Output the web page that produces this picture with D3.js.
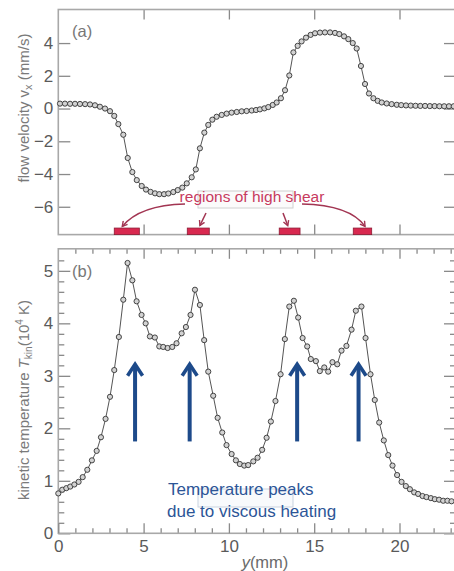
<!DOCTYPE html>
<html><head><meta charset="utf-8">
<script src="https://cdn.jsdelivr.net/npm/d3@7"></script>
<style>body{margin:0;background:#fff}svg{display:block}</style>
</head><body><svg id="c" width="454" height="571"></svg>
<script>
// ---- data ----
const velY = [0.1,0.39,0.69,0.98,1.27,1.57,1.86,2.15,2.44,2.74,3.03,3.28,3.52,3.81,4.07,4.34,4.6,4.89,5.14,5.41,5.67,5.92,6.2,6.45,6.74,7.0,7.27,7.53,7.82,8.06,8.3,8.56,8.79,9.03,9.28,9.58,9.87,10.16,10.46,10.75,11.04,11.34,11.59,11.82,12.08,12.31,12.57,12.8,13.05,13.29,13.54,13.78,14.03,14.26,14.52,14.79,15.05,15.34,15.63,15.93,16.22,16.47,16.75,17.0,17.26,17.49,17.74,17.98,18.21,18.47,18.72,18.96,19.25,19.54,19.84,20.1,20.38,20.66,20.94,21.22,21.5,21.78,22.06,22.34,22.62,22.9,23.18];
const velV = [0.30,0.30,0.29,0.29,0.28,0.27,0.25,0.20,0.11,0.0,-0.16,-0.45,-0.95,-1.6,-3.02,-3.88,-4.37,-4.73,-4.95,-5.09,-5.18,-5.23,-5.23,-5.19,-5.10,-4.98,-4.83,-4.57,-4.2,-3.72,-2.43,-1.47,-1.0,-0.68,-0.5,-0.39,-0.31,-0.25,-0.21,-0.17,-0.15,-0.12,-0.09,-0.05,0.01,0.09,0.22,0.37,0.63,1.12,2.02,3.43,3.83,4.10,4.33,4.50,4.60,4.64,4.65,4.65,4.62,4.55,4.41,4.24,4.0,3.67,2.6,1.5,0.92,0.63,0.47,0.37,0.31,0.27,0.23,0.21,0.19,0.18,0.17,0.16,0.16,0.15,0.15,0.14,0.14,0.14,0.14];
const tempY = [0,0.23,0.47,0.70,0.94,1.19,1.43,1.70,1.97,2.25,2.50,2.77,3.03,3.28,3.55,3.81,4.06,4.34,4.59,4.88,5.12,5.37,5.66,5.92,6.15,6.41,6.68,6.93,7.23,7.48,7.75,8.01,8.30,8.55,8.79,9.08,9.34,9.61,9.86,10.16,10.41,10.64,10.90,11.13,11.43,11.68,11.95,12.21,12.46,12.73,13.03,13.28,13.54,13.81,14.06,14.32,14.59,14.80,15.10,15.33,15.59,15.82,16.07,16.35,16.60,16.89,17.19,17.44,17.77,18.01,18.30,18.55,18.81,19.08,19.34,19.59,19.86,20.12,20.37,20.61,20.86,21.09,21.35,21.58,21.84,22.07,22.32,22.56,22.81,23.05];
const tempV = [0.76,0.83,0.86,0.89,0.93,0.98,1.07,1.21,1.39,1.57,1.83,2.18,2.60,3.11,3.74,4.45,5.15,4.82,4.42,4.16,4.00,3.75,3.73,3.56,3.55,3.53,3.55,3.62,3.81,3.93,4.16,4.64,4.35,3.68,3.08,2.62,2.20,1.92,1.68,1.51,1.39,1.32,1.29,1.30,1.37,1.44,1.59,1.82,2.13,2.52,3.03,3.70,4.32,4.43,4.11,3.72,3.56,3.32,3.28,3.09,3.16,3.08,3.26,3.22,3.48,3.57,3.88,4.24,4.32,3.72,3.03,2.54,2.11,1.77,1.49,1.29,1.11,0.98,0.90,0.84,0.78,0.75,0.71,0.69,0.67,0.65,0.64,0.62,0.62,0.61];
const shearStart = [3.28, 7.56, 12.95, 17.29];
const shearEnd   = [4.75, 8.85, 14.17, 18.37];
const peakPos = [4.5, 7.7, 14.0, 17.6];
const xTicks = [0,5,10,15,20];
const velTicks = [-6,-4,-2,0,2,4];
const tempTicks = [0,1,2,3,4,5];

// ---- layout ----
const FONT = "'Liberation Sans', Arial, sans-serif";
const L = 58.3, R = 456;
const svg = d3.select("#c").style("font-family", FONT);
const x = d3.scaleLinear().domain([0, (R-L)/17.06]).range([L, R]);
const yA = d3.scaleLinear().domain([-7.7, 6.05]).range([234.6, 9.5]);
const yB = d3.scaleLinear().domain([0, 5.42]).range([533.3, 248.8]);
const frameCol = "#a8a8a8", tickCol = "#8a8a8a", labCol = "#5a5a5a";

function styleAxis(g, showText){
  g.select(".domain").remove();
  g.selectAll(".tick line").attr("stroke", tickCol).attr("stroke-width", 1.3);
  g.selectAll(".tick text").attr("fill", labCol).attr("font-size", 17).attr("font-family", FONT);
  if(!showText) g.selectAll(".tick text").remove();
}
function panel(y, yTicks, minorX, minorY){
  const top = y.range()[1], bot = y.range()[0];
  styleAxis(svg.append("g").attr("transform",`translate(${L},0)`).call(d3.axisLeft(y).tickValues(yTicks).tickSize(-12).tickPadding(5).tickFormat(d3.format("d"))), true);
  styleAxis(svg.append("g").attr("transform",`translate(${R},0)`).call(d3.axisRight(y).tickValues(yTicks).tickSize(-12)), false);
  styleAxis(svg.append("g").attr("transform",`translate(0,${top})`).call(d3.axisTop(x).tickValues(xTicks.slice(1)).tickSize(-10)), false);
  if(minorX){
    styleAxis(svg.append("g").attr("transform",`translate(0,${top})`).call(d3.axisTop(x).tickValues(minorX).tickSize(-5)), false);
    styleAxis(svg.append("g").attr("transform",`translate(0,${bot})`).call(d3.axisBottom(x).tickValues(minorX).tickSize(-5)), false);
  }
  if(minorY){
    styleAxis(svg.append("g").attr("transform",`translate(${L},0)`).call(d3.axisLeft(y).tickValues(minorY).tickSize(-6)), false);
    styleAxis(svg.append("g").attr("transform",`translate(${R},0)`).call(d3.axisRight(y).tickValues(minorY).tickSize(-6)), false);
  }
  svg.append("rect").attr("x",L).attr("y",top).attr("width",R-L).attr("height",bot-top)
    .attr("fill","none").attr("stroke",frameCol).attr("stroke-width",1.6);
}

// ---- panel (a) ----
panel(yA, velTicks, null, null);
styleAxis(svg.append("g").attr("transform",`translate(0,${yA.range()[0]})`).call(d3.axisBottom(x).tickValues(xTicks.slice(1)).tickSize(-10)), false);

// ---- panel (b) ----
const minorX = d3.range(1,24).filter(v=>v%5!==0);
const minorY = d3.range(1,27).map(v=>v/5).filter(v=>Math.abs(v-Math.round(v))>1e-6);
panel(yB, tempTicks, minorX, minorY);
styleAxis(svg.append("g").attr("transform",`translate(0,${yB.range()[0]})`).call(d3.axisBottom(x).tickValues(xTicks).tickSize(-10).tickPadding(7).tickFormat(d3.format("d"))), true);

// ---- series ----
function series(xs, vs, y){
  const pts = xs.map((d,i)=>[d, vs[i]]);
  svg.append("path").datum(pts)
    .attr("d", d3.line().x(d=>x(d[0])).y(d=>y(d[1])))
    .attr("fill","none").attr("stroke","#555").attr("stroke-width",1);
  svg.append("g").selectAll("circle").data(pts).join("circle")
    .attr("cx",d=>x(d[0])).attr("cy",d=>y(d[1])).attr("r",2.6)
    .attr("fill","#d2d2d2").attr("stroke","#333").attr("stroke-width",0.9);
}
series(velY, velV, yA);
series(tempY, tempV, yB);

// ---- panel labels ----
svg.append("text").attr("x",72).attr("y",37).attr("fill","#777").attr("font-size",16.5).text("(a)");
svg.append("text").attr("x",72).attr("y",277).attr("fill","#777").attr("font-size",16.5).text("(b)");

// ---- axis titles ----
const tA = svg.append("text").attr("transform",`translate(29,108) rotate(-90)`).attr("text-anchor","middle")
  .attr("fill","#7a7a7a").attr("font-size",15);
tA.append("tspan").text("flow velocity v");
tA.append("tspan").attr("font-size",11).attr("dy",3).text("x");
tA.append("tspan").attr("dy",-3).text(" (mm/s)");

const tB = svg.append("text").attr("transform",`translate(29,400) rotate(-90)`).attr("text-anchor","middle")
  .attr("fill","#7a7a7a").attr("font-size",15);
tB.append("tspan").text("kinetic temperature ");
tB.append("tspan").attr("font-style","italic").text("T");
tB.append("tspan").attr("font-size",10).attr("dy",3).text("kin");
tB.append("tspan").attr("dy",-3).text("(10");
tB.append("tspan").attr("font-size",10).attr("dy",-6).text("4");
tB.append("tspan").attr("dy",6).text(" K)");

const tX = svg.append("text").attr("x",265).attr("y",568).attr("text-anchor","middle")
  .attr("fill","#6a6a6a").attr("font-size",16.5);
tX.append("tspan").attr("font-style","italic").text("y");
tX.append("tspan").text("(mm)");

// ---- shear regions ----
const red = "#d8284f", darkRed = "#a23552";
svg.append("g").selectAll("rect").data(shearStart.map((s,i)=>[s,shearEnd[i]])).join("rect")
  .attr("x",d=>x(d[0])).attr("width",d=>x(d[1])-x(d[0]))
  .attr("y",yA(-7.3)).attr("height",yA.range()[0]-yA(-7.3))
  .attr("fill",red).attr("stroke","#8c1b35").attr("stroke-width",0.8);

const defs = svg.append("defs");
defs.append("marker").attr("id","ra").attr("viewBox","0 0 10 10").attr("refX",8).attr("refY",5)
  .attr("markerWidth",7).attr("markerHeight",7).attr("orient","auto-start-reverse").attr("markerUnits","userSpaceOnUse")
  .append("path").attr("d","M1,1 L8,5 L1,9").attr("fill","none").attr("stroke",darkRed).attr("stroke-width",2);

svg.append("rect").attr("x",198).attr("y",191).attr("width",95).attr("height",17)
  .attr("fill","#fbfbfb").attr("stroke","#d0d0d0").attr("stroke-width",1);
const arrowsR = [
  `M185,204 Q140,205 ${x(3.75)},${yA(-7.2)}`,
  `M206,213 L${x(8.3)},${yA(-7.15)}`,
  `M283,213 L${x(13.45)},${yA(-7.15)}`,
  `M302,204 Q350,205 ${x(17.98)},${yA(-7.2)}`
];
svg.append("g").selectAll("path").data(arrowsR).join("path").attr("d",d=>d)
  .attr("fill","none").attr("stroke",darkRed).attr("stroke-width",1.5).attr("marker-end","url(#ra)");
svg.append("text").attr("x",252).attr("y",202).attr("text-anchor","middle")
  .attr("fill","#c73a5e").attr("font-size",15.5).text("regions of high shear");

// ---- temperature peak arrows ----
const blue = "#1d4a8a";
svg.append("rect").attr("x",198).attr("y",489).attr("width",95).attr("height",18)
  .attr("fill","#f8fafc").attr("stroke","#c9d3df").attr("stroke-width",1);
const ag = svg.append("g").selectAll("g").data(peakPos).join("g");
ag.append("line").attr("x1",d=>x(d)).attr("x2",d=>x(d)).attr("y1",yB(1.75)).attr("y2",yB(3.17))
  .attr("stroke",blue).attr("stroke-width",4);
ag.append("path").attr("d",d=>`M${x(d)-7.5},${yB(3.0)} L${x(d)},${yB(3.2)-1} L${x(d)+7.5},${yB(3.0)}`)
  .attr("fill","none").attr("stroke",blue).attr("stroke-width",3.6).attr("stroke-linejoin","miter");
const tt = svg.append("text").attr("fill","#2c5597").attr("font-size",17);
tt.append("tspan").attr("x",168).attr("y",495).text("Temperature peaks");
tt.append("tspan").attr("x",167).attr("y",517).text("due to viscous heating");
</script></body></html>
